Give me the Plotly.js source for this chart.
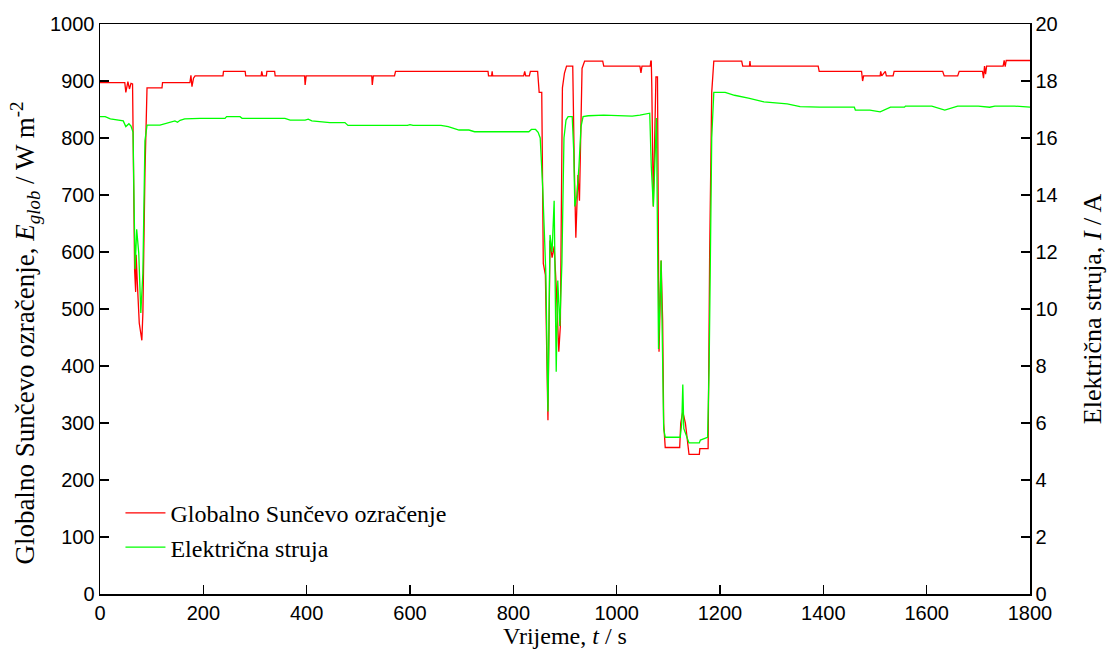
<!DOCTYPE html>
<html>
<head>
<meta charset="utf-8">
<script src="https://cdn.plot.ly/plotly-3.0.1.min.js"></script>
<style>html,body{margin:0;padding:0;background:#fff;}</style>
</head>
<body>
<div id="chart" style="width:1110px;height:653px;"></div>
<script>
// Global solar irradiance E_glob (W/m^2) vs time t (s)
const timeE = [0,48,50,54,57,60,63,65,67,69,70,72,76,81,83,87,91,120,121,174,176,178,181,184,238,239,281,282,312,313,315,322,323,338,339,396,397,399,526,527,529,570,572,751,752,758,759,760,820,822,824,831,833,847,850,855,858,862,867,871,875,879,883,888,891,895,899,903,915,918,921,925,928,933,938,973,975,1045,1047,1049,1065,1066,1067,1068,1071,1076,1079,1082,1086,1089,1091,1094,1122,1124,1128,1133,1137,1140,1160,1161,1177,1180,1184,1188,1242,1244,1257,1258,1259,1390,1392,1474,1476,1478,1510,1511,1513,1520,1522,1535,1537,1631,1634,1660,1663,1708,1710,1712,1714,1716,1748,1750,1752,1754,1800];
const irradiance = [897,897,880,899,886,896,895,700,568,530,595,551,475,445,493,738,888,888,897,897,910,890,905,909,909,917,917,909,909,917,909,909,917,917,909,909,893,909,909,893,909,909,917,917,909,909,917,909,909,917,909,909,917,917,880,880,580,560,305,620,590,610,540,425,470,888,914,926,926,750,625,735,690,922,935,935,926,926,914,926,926,935,935,890,680,907,907,425,585,480,300,257,257,300,320,300,270,245,245,255,255,600,880,935,935,926,926,935,926,926,917,917,900,909,909,917,909,917,909,909,917,917,909,909,917,917,905,926,912,926,926,936,925,936,936];

// Electric current I (A) vs time t (s)
const timeI = [0,10,20,35,45,50,56,60,64,66,68,71,75,79,83,87,91,116,126,135,145,150,155,164,194,242,245,271,275,358,368,387,397,403,410,445,474,480,560,595,600,606,640,660,674,695,714,725,830,835,843,848,852,857,863,867,871,875,879,883,886,890,894,898,902,906,914,917,919,923,927,931,935,945,975,1010,1030,1045,1064,1067,1071,1077,1081,1086,1088,1091,1094,1123,1126,1128,1130,1134,1140,1160,1162,1176,1179,1184,1188,1210,1228,1255,1285,1330,1355,1393,1460,1462,1490,1510,1530,1557,1559,1610,1635,1660,1700,1722,1732,1770,1800];
const current = [16.75,16.75,16.67,16.63,16.6,16.4,16.5,16.42,16.2,13.6,11.4,12.8,11.96,9.86,11.26,15.9,16.45,16.45,16.5,16.57,16.6,16.55,16.62,16.67,16.69,16.69,16.75,16.75,16.69,16.69,16.63,16.63,16.63,16.66,16.6,16.54,16.54,16.44,16.44,16.44,16.47,16.44,16.44,16.44,16.4,16.28,16.28,16.22,16.22,16.3,16.3,16.2,16.0,14.2,11.2,6.4,12.6,12.0,13.8,7.8,11.0,9.4,11.6,16.0,16.63,16.75,16.75,15.5,13.6,14.0,15.0,16.4,16.75,16.78,16.8,16.77,16.77,16.8,16.87,15.0,13.6,16.7,8.6,11.7,9.8,5.8,5.5,5.5,6.0,7.35,5.8,5.6,5.3,5.3,5.4,5.5,8.0,16.0,17.6,17.6,17.5,17.4,17.27,17.2,17.1,17.08,17.08,16.98,16.98,16.92,17.08,17.08,17.12,17.12,16.98,17.12,17.12,17.08,17.12,17.12,17.08];

const seriesNames = ["Globalno Sunčevo ozračenje", "Električna struja"];
const xTicks = [0,200,400,600,800,1000,1200,1400,1600,1800];
const yTicksLeft = [0,100,200,300,400,500,600,700,800,900,1000];
const yTicksRight = [0,2,4,6,8,10,12,14,16,18,20];

const serif = "Liberation Serif, Times New Roman, serif";
const sans = "Liberation Sans, Arial, sans-serif";

const traces = [
  {x: timeE, y: irradiance, name: seriesNames[0], type: "scatter", mode: "lines",
   line: {color: "#ff0000", width: 1.3}, yaxis: "y"},
  {x: timeI, y: current, name: seriesNames[1], type: "scatter", mode: "lines",
   line: {color: "#00ff00", width: 1.3}, yaxis: "y2"}
];

const axisCommon = {
  showgrid: false, zeroline: false, showline: true, linecolor: "#000", linewidth: 1.5,
  ticks: "inside", ticklen: 9, tickwidth: 1.2, tickcolor: "#000",
  tickfont: {family: sans, size: 20, color: "#000"}
};

const layout = {
  width: 1110, height: 653,
  margin: {l: 100, r: 80, t: 24, b: 59},
  paper_bgcolor: "#fff", plot_bgcolor: "#fff",
  showlegend: true,
  legend: {x: 0.022, y: 0.181, xanchor: "left", yanchor: "top", bgcolor: "rgba(0,0,0,0)",
           borderwidth: 0, font: {family: serif, size: 24, color: "#000"}, tracegroupgap: 6,
           itemwidth: 40},
  xaxis: Object.assign({}, axisCommon, {
    range: [0, 1800], tickvals: xTicks, ticktext: xTicks.map(String), mirror: true,
    title: {text: "Vrijeme, <i>t</i> / s", font: {family: serif, size: 24, color: "#000"}, standoff: 2}
  }),
  yaxis: Object.assign({}, axisCommon, {
    range: [0, 1000], tickvals: yTicksLeft, ticktext: yTicksLeft.map(String)
  }),
  yaxis2: Object.assign({}, axisCommon, {
    range: [0, 20], tickvals: yTicksRight, ticktext: yTicksRight.map(String),
    overlaying: "y", side: "right",
    title: {text: "Električna struja, <i>I</i> / A", font: {family: serif, size: 26, color: "#000"}, standoff: 26}
  }),
  annotations: [{
    text: "Globalno Sunčevo ozračenje, <i>E<sub>glob</sub></i> / W m<sup>-2</sup>",
    xref: "paper", yref: "paper", x: -0.081, y: 0.458, xanchor: "center", yanchor: "middle",
    textangle: -90, showarrow: false, font: {family: serif, size: 27, color: "#000"}
  }]
};

Plotly.newPlot("chart", traces, layout, {staticPlot: true, displayModeBar: false});
</script>
</body>
</html>
